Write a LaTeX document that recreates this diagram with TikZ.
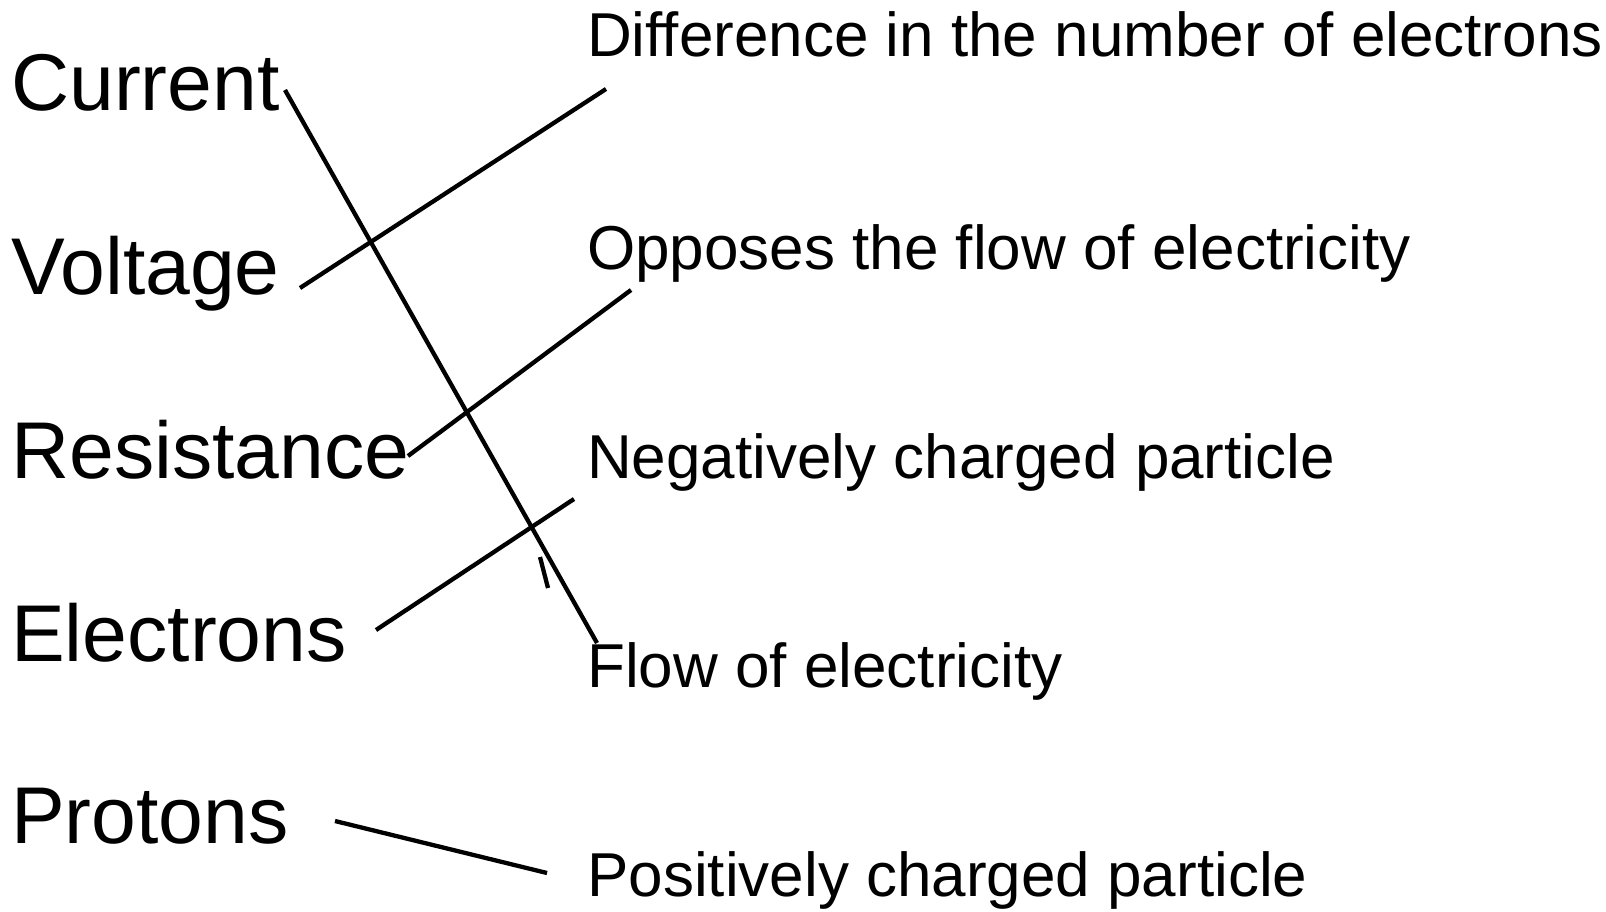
\documentclass[tikz,border=0pt]{standalone}
\usepackage{fontspec}
\setmainfont{Liberation Sans}
\begin{document}
\begin{tikzpicture}[x=1pt,y=-1pt,
  term/.style={anchor=base west,inner sep=0pt,font=\fontsize{80.5}{92}\selectfont},
  defn/.style={anchor=base west,inner sep=0pt,font=\fontsize{62}{72}\selectfont},
  link/.style={line width=4.3pt,line cap=butt}]
\useasboundingbox (0,0) rectangle (1606,911);
% left terms
\node[term] (cur) at (11,110) {Current};
\node[term] (vol) at (11,294) {Voltage};
\node[term] (res) at (11,478) {Resistance};
\node[term] (ele) at (11,661) {Electrons};
\node[term] (pro) at (11,843) {Protons};
% right definitions
\node[defn] (dif) at (587,56) {Difference in the number of electrons};
\node[defn] (opp) at (587,269) {Opposes the flow of electricity};
\node[defn] (neg) at (587,478) {Negatively charged particle};
\node[defn] (flo) at (587,687) {Flow of electricity};
\node[defn] (pos) at (587,896) {Positively charged particle};
% connector ends
\coordinate (c1) at (285,90);   \coordinate (f1) at (597,643);
\coordinate (v1) at (300,288);  \coordinate (d1) at (606,89);
\coordinate (r1) at (408,456);  \coordinate (o1) at (631,290);
\coordinate (e1) at (376,630);  \coordinate (n1) at (574,499);
\coordinate (p1) at (335,821);  \coordinate (q1) at (547,873);
\coordinate (t1) at (540,557);  \coordinate (t2) at (548,588);
\draw[link] (c1) -- (f1);
\draw[link] (v1) -- (d1);
\draw[link] (r1) -- (o1);
\draw[link] (e1) -- (n1);
\draw[link] (p1) -- (q1);
\draw[link] (t1) -- (t2);
\end{tikzpicture}
\end{document}
